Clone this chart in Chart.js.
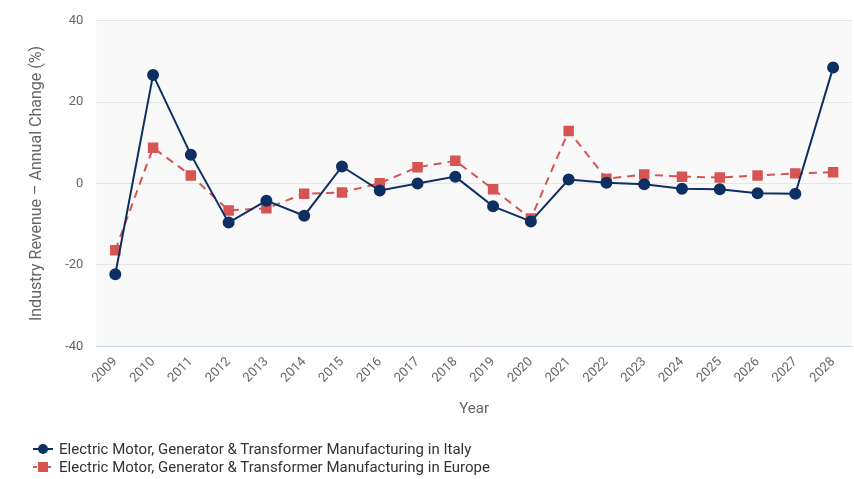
<!DOCTYPE html>
<html>
<head>
<meta charset="utf-8">
<script src="https://cdn.jsdelivr.net/npm/chart.js@4/dist/chart.umd.min.js"></script>
<style>
  body { margin: 0; background: #fff; font-family: Roboto, "Open Sans", sans-serif; }
  #wrap { position: relative; width: 854px; height: 479px; }
  #chartBox { position: absolute; left: 0; top: 0; width: 854px; height: 422px; }
  #legend { position: absolute; left: 33px; top: 440px; font-size: 15px; color: #333; }
  #legend div { height: 18px; line-height: 18px; display: flex; align-items: center; }
  #legend canvas { margin-right: 6px; }
</style>
</head>
<body>
<div id="wrap">
  <div id="chartBox"><canvas id="myChart"></canvas></div>
  <div id="legend"></div>
</div>
<script>
var years = ['2009','2010','2011','2012','2013','2014','2015','2016','2017','2018',
             '2019','2020','2021','2022','2023','2024','2025','2026','2027','2028']

var italy = [-22.3, 26.7, 7.1, -9.6, -4.2, -7.9, 4.2, -1.7, 0.0, 1.7,
             -5.6, -9.3, 1.0, 0.2, -0.2, -1.3, -1.4, -2.4, -2.5, 28.5]

var europe = [-16.4, 8.8, 2.0, -6.6, -6.1, -2.5, -2.2, 0.1, 4.0, 5.6,
              -1.4, -8.6, 12.9, 1.2, 2.2, 1.7, 1.5, 2.0, 2.5, 2.8]

var yTicks = [-40, -20, 0, 20, 40]

var navy = '#0d2f62'
var red = '#d65452'

// light grey fill behind the plot area only
var plotBg = {
  id: 'plotBg',
  beforeDraw: function(chart) {
    var a = chart.chartArea
    var ctx = chart.ctx
    ctx.save()
    ctx.fillStyle = '#f9f9f9'
    ctx.fillRect(a.left, a.top, a.right - a.left, a.bottom - a.top)
    ctx.restore()
  }
}

var chartField = document.querySelector('#myChart').getContext('2d')

var myChart = new Chart(chartField, {
  type: 'line',
  data: {
    labels: years,
    datasets: [{
      label: 'Electric Motor, Generator & Transformer Manufacturing in Italy',
      data: italy,
      borderColor: navy,
      backgroundColor: navy,
      borderWidth: 2,
      pointStyle: 'circle',
      pointRadius: 5,
      pointHoverRadius: 5,
      tension: 0,
      fill: false
    }, {
      label: 'Electric Motor, Generator & Transformer Manufacturing in Europe',
      data: europe,
      borderColor: red,
      backgroundColor: red,
      borderWidth: 2,
      borderDash: [8, 6],
      pointStyle: 'rect',
      pointRadius: 6,
      pointHoverRadius: 6,
      tension: 0,
      fill: false
    }]
  },
  options: {
    responsive: true,
    maintainAspectRatio: false,
    animation: false,
    layout: { autoPadding: false, padding: { left: 27, right: 2, top: 10, bottom: 0 } },
    plugins: {
      legend: { display: false },
      tooltip: { enabled: false }
    },
    scales: {
      x: {
        offset: true,
        grid: { display: false, drawTicks: false },
        border: { color: '#ccd6eb', width: 1 },
        ticks: {
          color: '#666',
          font: { family: 'Roboto', size: 13 },
          minRotation: 45,
          maxRotation: 45,
          padding: 8
        },
        title: {
          display: true,
          text: 'Year',
          color: '#666',
          font: { family: 'Roboto', size: 15 },
          padding: { top: 6 }
        }
      },
      y: {
        min: -40,
        max: 40,
        afterBuildTicks: function(axis) {
          axis.ticks = yTicks.map(function(v) { return { value: v } })
        },
        grid: { color: '#e6e6e6', drawTicks: false },
        border: { display: false },
        ticks: {
          color: '#666',
          font: { family: 'Roboto', size: 13 },
          padding: 13
        },
        title: {
          display: true,
          text: 'Industry Revenue – Annual Change (%)',
          color: '#666',
          font: { family: 'Roboto', size: 16 },
          padding: { top: 0, bottom: 6 }
        }
      }
    }
  },
  plugins: [plotBg]
})

// legend below the chart, one series per row
function legendSymbol(ds) {
  var c = document.createElement('canvas')
  c.width = 20
  c.height = 14
  var g = c.getContext('2d')
  g.strokeStyle = ds.borderColor
  g.fillStyle = ds.backgroundColor
  g.lineWidth = 2
  if (ds.borderDash) g.setLineDash([4, 3])
  g.beginPath()
  g.moveTo(0, 7)
  g.lineTo(20, 7)
  g.stroke()
  if (ds.pointStyle === 'rect') {
    g.fillRect(5, 2, 10, 10)
  } else {
    g.beginPath()
    g.arc(10, 7, 5, 0, Math.PI * 2)
    g.fill()
  }
  return c
}

var legendBox = document.querySelector('#legend')
myChart.data.datasets.forEach(function(ds) {
  var row = document.createElement('div')
  row.appendChild(legendSymbol(ds))
  var span = document.createElement('span')
  span.textContent = ds.label
  row.appendChild(span)
  legendBox.appendChild(row)
})
</script>
</body>
</html>
